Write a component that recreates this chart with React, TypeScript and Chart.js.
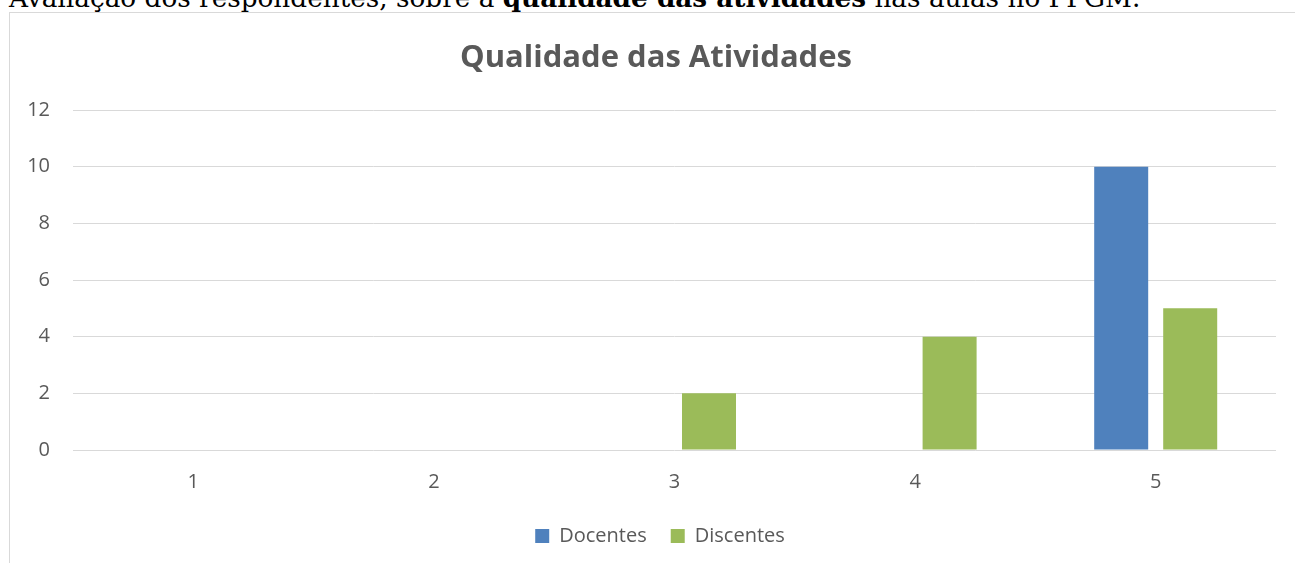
import React, { useEffect, useRef } from "react";
import { Chart, registerables } from "chart.js";

Chart.register(...registerables);

const categories = ["1", "2", "3", "4", "5"];
const docentes = [0, 0, 0, 0, 10];
const discentes = [0, 0, 2, 4, 5];
const seriesNames = ["Docentes", "Discentes"];
const chartTitle = "Qualidade das Atividades";
const yMin = 0;
const yMax = 12;
const yStep = 2;

const TEXT = "#595959";
const GRID = "#d9d9d9";
const BLUE = "#4f81bd";
const GREEN = "#9bbb59";
const FONT = "'Open Sans', sans-serif";

// small horizontal nudges for the full-width title and legend boxes
const centerNudge = {
  id: "centerNudge",
  afterLayout(chart: any) {
    const t = chart.titleBlock;
    if (t) {
      t.left += 5;
      t.right += 5;
    }
    const l = chart.legend;
    if (l) {
      l.left += 9;
      l.right += 9;
    }
  },
};

export default function App() {
  const canvasRef = useRef<HTMLCanvasElement | null>(null);

  useEffect(() => {
    if (!canvasRef.current) return;
    const chart = new Chart(canvasRef.current, {
      type: "bar",
      data: {
        labels: categories,
        datasets: [
          {
            label: seriesNames[0],
            data: docentes,
            backgroundColor: BLUE,
            borderWidth: 0,
            categoryPercentage: 0.5736,
            barPercentage: 0.7826,
          },
          {
            label: seriesNames[1],
            data: discentes,
            backgroundColor: GREEN,
            borderWidth: 0,
            categoryPercentage: 0.5736,
            barPercentage: 0.7826,
          },
        ],
      },
      plugins: [centerNudge],
      options: {
        animation: false,
        responsive: true,
        maintainAspectRatio: false,
        layout: { padding: { left: 16, right: 25, top: 0, bottom: 0 } },
        plugins: {
          title: {
            display: true,
            text: chartTitle,
            color: TEXT,
            font: { family: FONT, size: 31, weight: "bold" },
            padding: { top: 26.4, bottom: 33.4 },
          },
          legend: {
            display: true,
            position: "bottom",
            labels: {
              color: TEXT,
              font: { family: FONT, size: 20 },
              boxWidth: 14,
              boxHeight: 14,
              padding: 24,
            },
          },
          tooltip: { enabled: false },
        },
        scales: {
          x: {
            grid: { display: false, drawTicks: false },
            border: { display: false },
            ticks: {
              color: TEXT,
              font: { family: FONT, size: 20 },
              padding: 20,
            },
            afterFit: (scale: any) => {
              scale.height = 52;
            },
          },
          y: {
            min: yMin,
            max: yMax,
            grid: { color: GRID, lineWidth: 1, drawTicks: false },
            border: { display: false },
            ticks: {
              stepSize: yStep,
              color: TEXT,
              font: { family: FONT, size: 20 },
              padding: 23,
            },
            afterFit: (scale: any) => {
              scale.width = 47;
            },
          },
        },
      },
    });
    return () => chart.destroy();
  }, []);

  return (
    <div
      style={{
        position: "fixed",
        left: 0,
        top: 0,
        width: 1295,
        height: 563,
        overflow: "hidden",
        background: "#fff",
      }}
    >
      <div
        style={{
          position: "absolute",
          left: 9,
          top: -16.2,
          whiteSpace: "nowrap",
          fontFamily: "'DejaVu Serif', serif",
          fontSize: 26.3,
          lineHeight: "28px",
          color: "#000",
        }}
      >
        Avaliação dos respondentes, sobre a <b>qualidade das atividades</b> nas aulas no PPGM.
      </div>
      <div
        style={{
          position: "absolute",
          left: 9,
          top: 12,
          width: 1293,
          height: 700,
          boxSizing: "border-box",
          border: `1px solid ${GRID}`,
          background: "#fff",
        }}
      >
        <div style={{ position: "relative", width: 1291, height: 543 }}>
          <canvas ref={canvasRef} />
        </div>
      </div>
    </div>
  );
}
